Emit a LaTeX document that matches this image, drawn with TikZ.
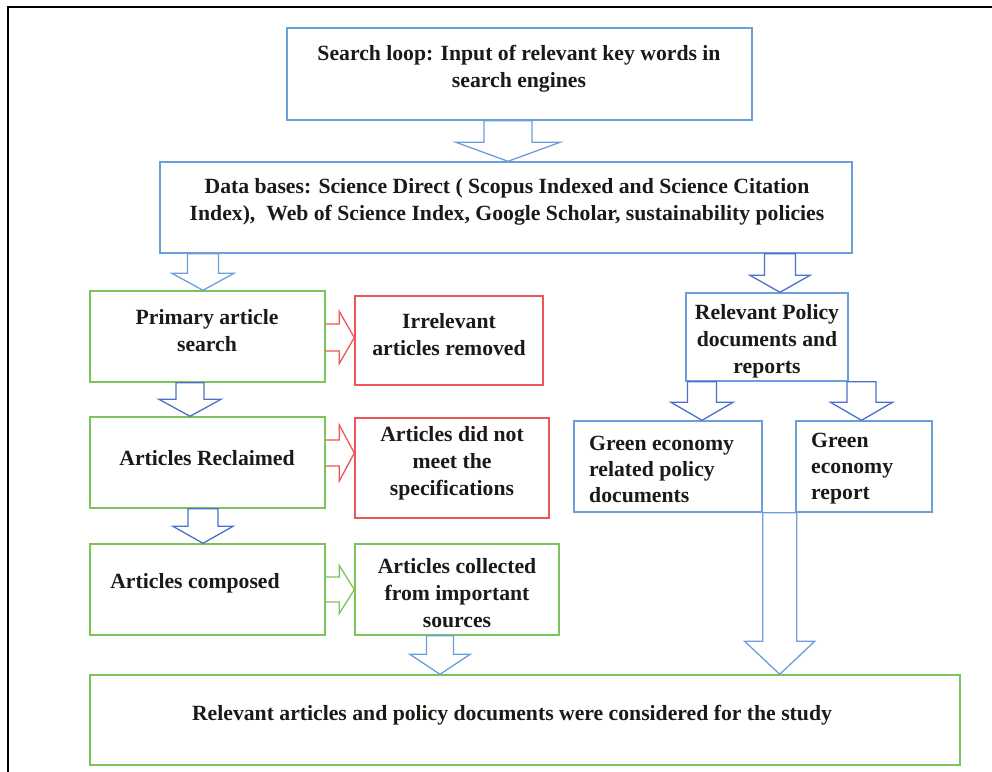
\documentclass[tikz,border=0pt]{standalone}
\usepackage{fontspec}
\setmainfont{Liberation Serif}
\usetikzlibrary{calc}
\definecolor{bbox}{HTML}{6A9FDB}
\definecolor{barr}{HTML}{4A72C8}
\definecolor{gbox}{HTML}{7CC35A}
\definecolor{rbox}{HTML}{EE5557}
\definecolor{tcol}{HTML}{1C1A16}
\tikzset{
  boxb/.style={draw=bbox, line width=1.4pt, rectangle, inner sep=0pt},
  boxg/.style={draw=gbox, line width=1.4pt, rectangle, inner sep=0pt},
  boxr/.style={draw=rbox, line width=1.4pt, rectangle, inner sep=0pt},
  txt/.style={font=\fontsize{21.7}{27}\selectfont\bfseries, align=center, text=tcol, inner sep=0pt},
  txtl/.style={font=\fontsize{21.7}{26}\selectfont\bfseries, align=left, text=tcol, inner sep=0pt, anchor=west},
  blk/.style={line width=1.3pt, line join=miter}
}
% vertical block arrow: color, start point, target point (tip y), shaft hw, head hw, head len
\newcommand{\vblk}[6]{%
  \draw[blk,#1] let \p1=#2, \p2=#3 in
    (\x1-#4,\y1) -- (\x1-#4,\y2+#6) -- (\x1-#5,\y2+#6) -- (\x1,\y2)
    -- (\x1+#5,\y2+#6) -- (\x1+#4,\y2+#6) -- (\x1+#4,\y1) -- cycle;}
% horizontal block arrow: color, start point, target point (tip x), shaft hw, head hw, head len
\newcommand{\hblk}[6]{%
  \draw[blk,#1] let \p1=#2, \p2=#3 in
    (\x1,\y1+#4) -- (\x2-#6,\y1+#4) -- (\x2-#6,\y1+#5) -- (\x2,\y1)
    -- (\x2-#6,\y1-#5) -- (\x2-#6,\y1-#4) -- (\x1,\y1-#4);}
\begin{document}
\begin{tikzpicture}[x=1pt,y=-1pt]
\useasboundingbox (0,0) rectangle (992,771);
% outer frame
\draw[line width=2pt, black] (8,775) -- (8,7) -- (996,7);

% boxes
\node[boxb, minimum width=465, minimum height=92] (srch) at (519.5,74) {};
\node[boxb, minimum width=692, minimum height=91] (data) at (506,207.5) {};
\node[boxg, minimum width=235, minimum height=91] (prim) at (207.5,336.5) {};
\node[boxr, minimum width=188, minimum height=89] (irr) at (449,340.5) {};
\node[boxg, minimum width=235, minimum height=91] (recl) at (207.5,462.5) {};
\node[boxr, minimum width=194, minimum height=100] (dnm) at (452,468) {};
\node[boxg, minimum width=235, minimum height=91] (comp) at (207.5,589.5) {};
\node[boxg, minimum width=204, minimum height=91] (coll) at (457,589.5) {};
\node[boxb, minimum width=162, minimum height=88] (pol) at (767,337) {};
\node[boxb, minimum width=188, minimum height=91] (ger) at (668,466.5) {};
\node[boxb, minimum width=136, minimum height=91] (rep) at (864,466.5) {};
\node[boxg, minimum width=870, minimum height=90] (fin) at (525,720) {};

% texts
\node[txt] (srchT) at (519,69) {Search loop: Input of relevant key words in\\search engines};
\node[txt] (dataT) at (507,201.5) {Data bases: Science Direct ( Scopus Indexed and Science Citation\\Index),\ \ Web of Science Index, Google Scholar, sustainability policies};
\node[txt] (primT) at (207,331) {Primary article\\search};
\node[txt] (irrT) at (449,334.5) {Irrelevant\\articles removed};
\node[txt] (reclT) at (207,458) {Articles Reclaimed};
\node[txt] (dnmT) at (452,463) {Articles did not\\meet the\\specifications};
\node[txt] (compT) at (195,583) {Articles composed};
\node[txt] (collT) at (457,593.5) {Articles collected\\from important\\sources};
\node[txt] (polT) at (767,341) {Relevant Policy\\documents and\\reports};
\node[txtl] (gerT) at (589,469) {Green economy\\related policy\\documents};
\node[txtl] (repT) at (811,469) {Green\\economy\\report};
\node[txt] (finT) at (512,715) {Relevant articles and policy documents were considered for the study};

% block arrows
\vblk{bbox}{($(srch.south)+(-11.5,0)$)}{(data.north)}{24}{52}{19}
\vblk{bbox}{($(data.south)+(-303,0)$)}{(prim.north)}{15.5}{31}{17}
\vblk{barr}{($(data.south)+(274,0)$)}{(pol.north)}{15.5}{30}{17}
\vblk{barr}{($(prim.south)+(-17.5,0)$)}{(recl.north)}{14}{31}{17}
\vblk{barr}{($(recl.south)+(-4.5,0)$)}{(comp.north)}{15}{30}{17}
\vblk{bbox}{($(coll.south)+(-17,0)$)}{(fin.north)}{13.5}{30}{20}
\vblk{barr}{($(pol.south)+(-65,0)$)}{(ger.north)}{14.5}{31}{18}
\vblk{barr}{($(pol.south)+(94.5,0)$)}{(rep.north)}{14.5}{31}{18}
\vblk{bbox}{($(ger.south east)+(17,0)$)}{(fin.north)}{17}{35}{33}
\hblk{rbox}{($(prim.east)+(0,1)$)}{(irr.west)}{13.5}{26}{15}
\hblk{rbox}{($(recl.east)+(0,-9.5)$)}{(dnm.west)}{13}{28}{15}
\hblk{gbox}{($(comp.east)+(0,0)$)}{(coll.west)}{12.5}{24}{15}
\end{tikzpicture}
\end{document}
